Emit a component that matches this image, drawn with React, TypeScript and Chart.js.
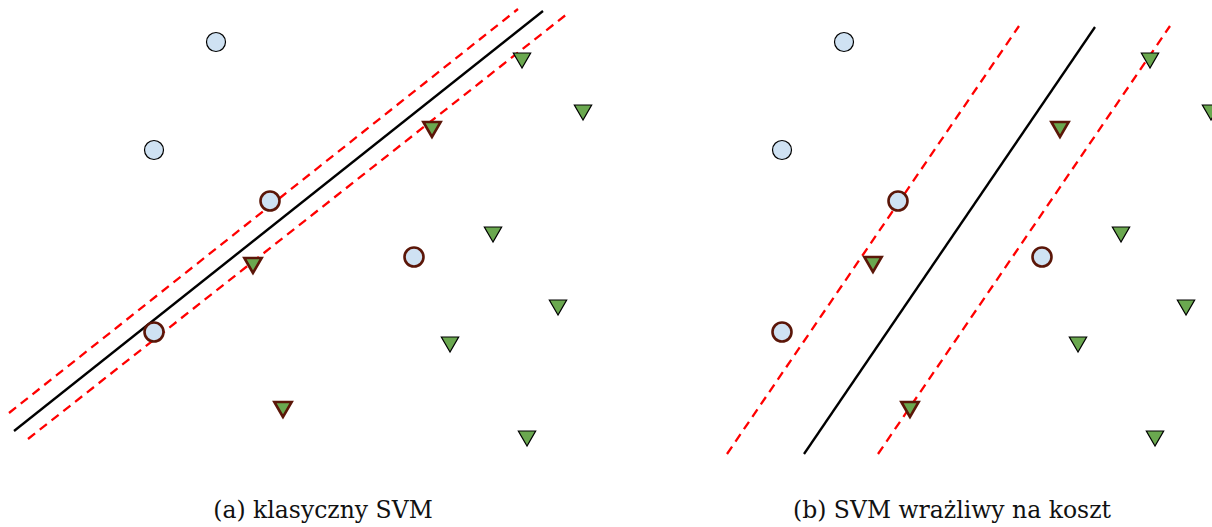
import React, { useEffect, useRef } from 'react';
import { Chart, registerables } from 'chart.js';

Chart.register(...registerables);

type P = { x: number; y: number };

// Points (same in both panels, except one support-vector triangle)
const plainCircles: P[] = [
  { x: 21.6, y: 42.8 },
  { x: 15.4, y: 32.0 },
];
const svCircles: P[] = [
  { x: 27.0, y: 26.9 },
  { x: 15.4, y: 13.8 },
  { x: 41.4, y: 21.3 },
];
const plainTriangles: P[] = [
  { x: 52.2, y: 41.2 },
  { x: 58.3, y: 36.0 },
  { x: 49.3, y: 23.8 },
  { x: 55.8, y: 16.5 },
  { x: 45.0, y: 12.8 },
  { x: 52.7, y: 3.4 },
];
const svTrianglesA: P[] = [
  { x: 43.2, y: 34.3 },
  { x: 25.3, y: 20.7 },
  { x: 28.3, y: 6.3 },
];
const svTrianglesB: P[] = [
  { x: 43.2, y: 34.3 },
  { x: 24.5, y: 20.8 },
  { x: 28.2, y: 6.3 },
];

// Decision boundaries and margins
const hyperplaneA: P[] = [{ x: 1.4, y: 3.9 }, { x: 54.3, y: 45.9 }];
const marginUpperA: P[] = [{ x: 0.9, y: 5.7 }, { x: 51.8, y: 46.1 }];
const marginLowerA: P[] = [{ x: 2.8, y: 3.1 }, { x: 56.7, y: 45.6 }];

const hyperplaneB: P[] = [{ x: 17.6, y: 1.6 }, { x: 46.7, y: 44.3 }];
const marginUpperB: P[] = [{ x: 9.9, y: 1.6 }, { x: 39.1, y: 44.4 }];
const marginLowerB: P[] = [{ x: 25.0, y: 1.6 }, { x: 54.2, y: 44.4 }];

const captionA = '(a) klasyczny SVM';
const captionB = '(b) SVM wrażliwy na koszt';

const CIRCLE_FILL = '#cfe2f3';
const TRI_FILL = '#6aa84f';
const SV_BORDER = '#5b1608';

function Panel(props: {
  left: number;
  xMin: number;
  xMax: number;
  svTri: P[];
  hyper: P[];
  up: P[];
  low: P[];
}) {
  const ref = useRef<HTMLCanvasElement | null>(null);
  useEffect(() => {
    if (!ref.current) return;
    const lineDs = (data: P[], color: string, dash: number[]) => ({
      data,
      showLine: true,
      borderColor: color,
      borderWidth: 2.3,
      borderDash: dash,
      pointRadius: 0,
      fill: false,
      order: 10,
    });
    const ptDs = (data: P[], style: string, fill: string, border: string, bw: number, rot: number) => ({
      data,
      showLine: false,
      pointStyle: style,
      pointRadius: style === 'circle' ? 9.5 : 10,
      pointRotation: rot,
      backgroundColor: fill,
      borderColor: border,
      pointBorderWidth: bw,
      borderWidth: bw,
      order: 1,
    });
    const chart = new Chart(ref.current, {
      type: 'scatter',
      data: {
        datasets: [
          ptDs(plainCircles, 'circle', CIRCLE_FILL, '#000000', 1.2, 0),
          ptDs(svCircles, 'circle', CIRCLE_FILL, SV_BORDER, 2.6, 0),
          ptDs(plainTriangles, 'triangle', TRI_FILL, '#000000', 1.2, 180),
          ptDs(props.svTri, 'triangle', TRI_FILL, SV_BORDER, 2.6, 180),
          lineDs(props.hyper, '#000000', []),
          lineDs(props.up, '#ff0000', [9, 6]),
          lineDs(props.low, '#ff0000', [9, 6]),
        ] as any,
      },
      options: {
        animation: false,
        responsive: false,
        maintainAspectRatio: false,
        layout: { padding: 0, autoPadding: false } as any,
        clip: false as any,
        plugins: { legend: { display: false }, tooltip: { enabled: false }, title: { display: false } },
        scales: {
          x: { type: 'linear', min: props.xMin, max: props.xMax, display: false },
          y: { type: 'linear', min: 0, max: 47, display: false },
        },
      },
    });
    return () => chart.destroy();
  }, []);
  return (
    <canvas
      ref={ref}
      width={606}
      height={470}
      style={{ position: 'absolute', left: props.left, top: 0, width: 606, height: 470 }}
    />
  );
}

const captionStyle: React.CSSProperties = {
  position: 'absolute',
  top: 494,
  height: 32,
  lineHeight: '32px',
  textAlign: 'center',
  fontFamily: '"DejaVu Serif", serif',
  fontSize: 23.5,
  color: '#111',
  whiteSpace: 'nowrap',
};

export default function App() {
  return (
    <div style={{ position: 'absolute', left: 0, top: 0, width: 1212, height: 527, background: '#fff', overflow: 'hidden' }}>
      <Panel left={0} xMin={0} xMax={60.6} svTri={svTrianglesA} hyper={hyperplaneA} up={marginUpperA} low={marginLowerA} />
      <Panel left={606} xMin={-2.2} xMax={58.4} svTri={svTrianglesB} hyper={hyperplaneB} up={marginUpperB} low={marginLowerB} />
      <div style={{ ...captionStyle, left: 0, width: 646 }}>{captionA}</div>
      <div style={{ ...captionStyle, left: 692, width: 520 }}>{captionB}</div>
    </div>
  );
}
